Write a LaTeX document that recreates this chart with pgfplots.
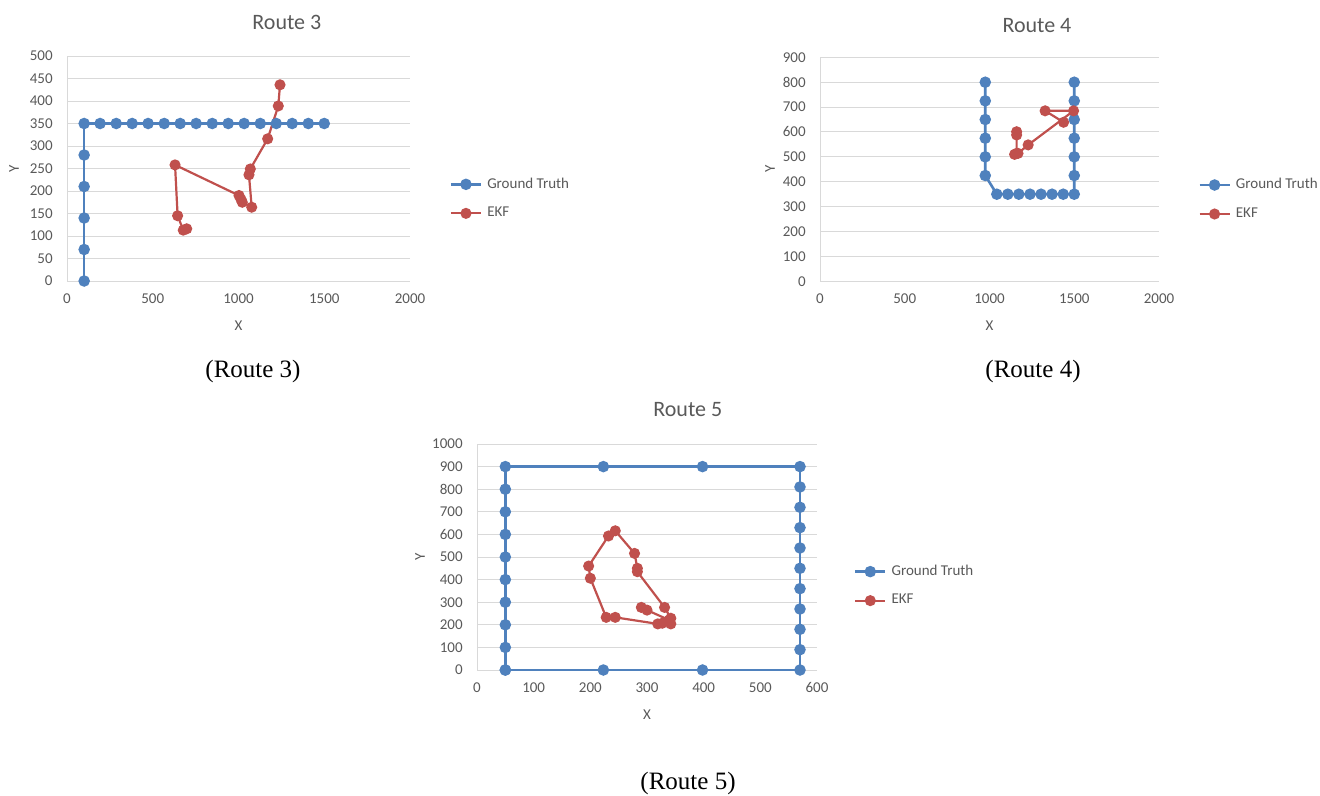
\documentclass[border=0pt]{standalone}
\usepackage{pgfplots}
\pgfplotsset{compat=1.18}
\usepackage{fontspec}
\setmainfont{Carlito}
\newfontfamily\capfont{Liberation Serif}
\definecolor{gtblue}{HTML}{4F81BD}
\definecolor{ekfred}{HTML}{C0504D}
\definecolor{gridgray}{HTML}{D9D9D9}
\definecolor{labelgray}{HTML}{595959}
\pgfplotsset{
  excel/.style={
    scale only axis, clip=false,
    axis x line*=bottom, axis y line*=left,
    axis line style={draw=gridgray, line width=0.5pt, -},
    ymajorgrids, grid style={draw=gridgray, line width=0.5pt},
    major tick length=0pt, tick style={draw=none},
    tick label style={font=\fontsize{7.5}{9}\selectfont, text=labelgray},
    /pgf/number format/assume math mode=true,
    /pgf/number format/set thousands separator={},
    xticklabel style={anchor=north, inner sep=0pt, yshift=-6.2pt},
    yticklabel style={anchor=east, inner sep=0pt, xshift=-7pt},
    label style={font=\fontsize{7.5}{9}\selectfont, text=labelgray},
    title style={font=\fontsize{11}{13}\selectfont, text=labelgray, anchor=center},
    legend style={draw=none, fill=none, font=\fontsize{7.5}{9}\selectfont, text=labelgray,
      row sep=6pt, cells={anchor=west}, nodes={inner sep=1pt},
      /tikz/every odd column/.append style={column sep=1.5pt}},
    legend image code/.code={\draw[#1, mark repeat=2, mark phase=2] plot coordinates {(0pt,0pt) (7.5pt,0pt) (15pt,0pt)};},
  },
  gt/.style={color=gtblue, line width=1.3pt, mark=*, mark size=2.2pt, mark options={solid}},
  ekf/.style={color=ekfred, line width=1.1pt, mark=*, mark size=2.2pt, mark options={solid}},
}
\begin{document}
\begin{tikzpicture}
\path[use as bounding box] (0,0) rectangle (660pt,-398pt);

% Route 3
\begin{axis}[excel, at={(33.5pt,-140.5pt)}, anchor=south west,
  width=171.5pt, height=112.5pt,
  xmin=0, xmax=2000, ymin=0, ymax=500,
  xtick={0,500,1000,1500,2000}, ytick={0,50,...,500},
  title={Route 3}, title style={at={(0.641,1)}, yshift=11pt},
  xlabel={X}, ylabel={Y},
  xlabel style={at={(axis description cs:0.5,0)}, anchor=center, yshift=-22.5pt},
  ylabel style={at={([xshift=-26.5pt]axis description cs:0,0.5)}, anchor=center},
  legend style={at={(1.097,0.366)}, anchor=west}]
\addplot[gt] coordinates {(100,0) (100,70) (100,140) (100,210) (100,280) (100,350)
 (193,350) (287,350) (380,350) (473,350) (567,350) (660,350) (753,350) (847,350)
 (940,350) (1033,350) (1127,350) (1220,350) (1313,350) (1407,350) (1500,350)};
\addlegendentry{Ground Truth}
\addplot[ekf] coordinates {(698,116) (678,113) (645,145) (630,258) (1003,190) (1015,181)
 (1022,175) (1077,164) (1061,236) (1069,249) (1170,316) (1232,389) (1242,436)};
\addlegendentry{EKF}
\end{axis}

% Route 4
\begin{axis}[excel, at={(410pt,-140.65pt)}, anchor=south west,
  width=169.5pt, height=112pt,
  xmin=0, xmax=2000, ymin=0, ymax=900,
  xtick={0,500,1000,1500,2000}, ytick={0,100,...,900},
  title={Route 4}, title style={at={(0.64,1)}, yshift=10pt},
  xlabel={X}, ylabel={Y},
  xlabel style={at={(axis description cs:0.5,0)}, anchor=center, yshift=-22pt},
  ylabel style={at={([xshift=-25pt]axis description cs:0,0.5)}, anchor=center},
  legend style={at={(1.097,0.366)}, anchor=west}]
\addplot[gt] coordinates {(975,800) (975,725) (975,650) (975,575) (975,500) (975,425)
 (1043,350) (1108,350) (1173,350) (1239,350) (1304,350) (1369,350) (1435,350) (1500,350)
 (1500,425) (1500,500) (1500,575) (1500,650) (1500,725) (1500,800)};
\addlegendentry{Ground Truth}
\addplot[ekf] coordinates {(1160,601) (1160,588) (1160,514) (1148,510) (1168,514)
 (1228,548) (1496,685) (1328,685) (1437,639)};
\addlegendentry{EKF}
\end{axis}

% Route 5
\begin{axis}[excel, at={(238.5pt,-335pt)}, anchor=south west,
  width=170pt, height=113pt,
  xmin=0, xmax=600, ymin=0, ymax=1000,
  xtick={0,100,...,600}, ytick={0,100,...,1000},
  title={Route 5}, title style={at={(0.62,1)}, yshift=11pt},
  xlabel={X}, ylabel={Y},
  xlabel style={at={(axis description cs:0.5,0)}, anchor=center, yshift=-22.5pt},
  ylabel style={at={([xshift=-28.5pt]axis description cs:0,0.5)}, anchor=center},
  legend style={at={(1.09,0.372)}, anchor=west}]
\addplot[gt] coordinates {(50,0) (50,100) (50,200) (50,300) (50,400) (50,500) (50,600)
 (50,700) (50,800) (50,900) (223,900) (398,900) (570,900) (570,810) (570,720) (570,630)
 (570,540) (570,450) (570,360) (570,270) (570,180) (570,90) (570,0) (398,0) (223,0) (50,0)};
\addlegendentry{Ground Truth}
\addplot[ekf] coordinates {(290,277) (300,265) (339,221) (342,204) (327,207) (319,204)
 (244,233) (228,233) (200,406) (197,460) (232,593) (244,616) (278,516) (283,450)
 (283,435) (331,277) (342,229)};
\addlegendentry{EKF}
\end{axis}

\node[font=\capfont\fontsize{12.5}{14}\selectfont] at (126.5pt,-185.5pt) {(Route 3)};
\node[font=\capfont\fontsize{12.5}{14}\selectfont] at (516.5pt,-185.5pt) {(Route 4)};
\node[font=\capfont\fontsize{12.5}{14}\selectfont] at (344pt,-391.5pt) {(Route 5)};
\end{tikzpicture}
\end{document}
